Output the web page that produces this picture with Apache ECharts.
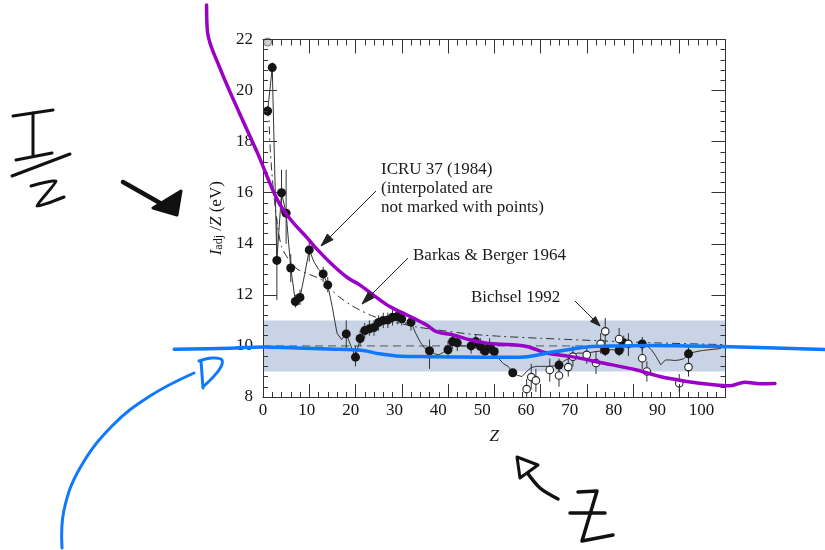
<!DOCTYPE html>
<html>
<head>
<meta charset="utf-8">
<script src="https://cdn.jsdelivr.net/npm/echarts@6/dist/echarts.min.js"></script>
<style>html,body{margin:0;padding:0;background:#fff}#c{width:825px;height:550px}</style>
</head>
<body>
<div id="c"></div>
<script>
// ---------- data ----------
// ICRU 37 marked points: [Z, I/Z, errLow, errHigh]
const icruPoints = [
  [1,19.2,19.0,19.4],[2,20.9,20.7,21.1],[3,13.35,11.8,15.0],[4,16.0,15.2,16.9],
  [5,15.2,14.0,16.9],[6,13.05,12.5,13.6],[7,11.74,11.5,12.0],[8,11.9,11.6,12.2],
  [10,13.76,13.3,14.2],[13,12.82,12.5,13.1],[14,12.39,12.1,12.7],[18,10.47,9.9,11.0],
  [20,9.56,9.2,10.0],[21,10.29,10.0,10.6],[22,10.6,10.3,10.9],[23,10.67,10.4,11.0],
  [24,10.72,10.4,11.0],[25,10.92,10.6,11.2],[26,11.0,10.7,11.3],[27,11.02,10.7,11.3],
  [28,11.12,10.8,11.4],[29,11.15,10.85,11.45],[30,11.06,10.8,11.35],[32,10.93,10.6,11.2],
  [36,9.81,9.1,10.25],[40,9.85,9.5,10.2],[41,10.17,9.9,10.5],[42,10.12,9.8,10.45],
  [45,10.0,9.7,10.3],[46,10.17,9.9,10.45],[47,9.98,9.7,10.3],[48,9.8,9.5,10.1],
  [49,9.98,9.7,10.3],[50,9.78,9.5,10.05],[54,8.95,8.95,8.95],[64,9.25,9.0,9.5],
  [74,9.82,9.82,9.82],[77,9.82,9.6,10.1],[78,10.12,9.8,10.4],[82,10.08,9.8,10.35],
  [92,9.69,9.4,9.95]
];
// Bichsel 1992 points (open circles): [Z, I/Z, errLow, errHigh]
const bichselPoints = [
  [57,8.31,8.0,8.7],[58,8.78,8.3,9.3],[59,8.65,8.2,9.1],[62,9.06,8.6,9.5],
  [64,8.84,8.4,9.3],[66,9.17,8.8,9.6],[67,9.58,9.2,10.0],[70,9.65,9.3,10.0],
  [72,9.33,8.9,9.8],[73,10.08,9.7,10.5],[74,10.57,9.6,11.1],[77,10.27,9.9,10.7],
  [79,10.08,9.6,10.5],[82,9.52,9.1,9.9],[83,9.0,8.6,9.4],[90,8.54,8.2,8.9],
  [92,9.17,8.8,9.6]
];
const hydrogenGas = [[1,21.9]];
// ICRU 37 (1984) curve incl. interpolated values
const icruCurve = [
  [1,19.2],[2,20.9],[3,13.35],[4,16.0],[5,15.2],[6,13.05],[7,11.74],[8,11.9],[9,12.8],
  [10,13.76],[11,13.3],[12,13.0],[13,12.82],[14,12.39],[15,11.5],[16,10.5],[17,10.25],
  [18,10.47],[19,10.0],[20,9.56],[21,10.29],[22,10.6],[23,10.67],[24,10.72],[25,10.92],
  [26,11.0],[27,11.02],[28,11.12],[29,11.15],[30,11.06],[31,10.85],[32,10.93],[33,10.5],
  [34,10.15],[35,9.9],[36,9.81],[37,9.7],[38,9.65],[39,9.75],[40,9.85],[41,10.17],
  [42,10.12],[43,10.0],[44,10.0],[45,10.0],[46,10.17],[47,9.98],[48,9.8],[49,9.98],
  [50,9.78],[51,9.5],[52,9.3],[53,9.2],[54,8.95],[55,8.85],[56,8.8],[57,9.0],[58,9.15],
  [59,9.2],[60,9.2],[61,9.2],[62,9.2],[63,9.22],[64,9.25],[65,9.4],[66,9.5],[67,9.62],
  [68,9.72],[69,9.72],[70,9.72],[71,9.75],[72,9.78],[73,9.8],[74,9.82],[75,9.85],
  [76,9.85],[77,9.82],[78,10.12],[79,10.05],[80,10.0],[81,10.0],[82,10.08],[83,10.0],
  [84,9.85],[85,9.58],[86,9.26],[87,9.45],[88,9.45],[89,9.43],[90,9.45],[91,9.5],
  [92,9.69],[93,9.75],[95,9.82],[99,9.9]
];
// Barkas & Berger 1964 curve
const barkasCurve = [
  [1.2,19.3],[1.6,17.6],[2.2,16.2],[3,14.9],[4,13.9],[5.5,13.4],[7.5,13.0],[10,12.8],
  [12.6,12.6],[14.5,12.25],[16.6,11.9],[19,11.6],[21,11.4],[24,11.15],[28,10.95],
  [33,10.75],[38,10.62],[45,10.46],[52,10.37],[60,10.3],[73,10.2],[85,10.12],[100,10.05]
];
const refLine = [[0,10],[100,10]];
const bandRange = [9, 11];
// hand-drawn overlays (data units; they run past the frame)
const purpleStroke = [
  [-12.2,23.35],[-12.0,22.3],[-9.4,20.92],[-5.1,19.12],[-1.2,17.56],[3.1,15.72],
  [6.0,14.94],[9.6,14.22],[11.8,13.76],[15.4,13.11],[18.3,12.67],[20.9,12.39],
  [23.8,12.0],[27.4,11.54],[31.0,11.22],[35.3,10.83],[37.5,10.56],[41.1,10.43],
  [44.7,10.24],[48.3,10.11],[50.5,10.08],[57.0,9.98],[61.3,9.72],[66.3,9.59],
  [73.5,9.33],[80.8,9.06],[85.8,8.8],[91.6,8.61],[97.4,8.48],[101.0,8.44],
  [104.2,8.58],[107.5,8.52],[110.7,8.53]
];
const blueStroke = [
  [-19.2,9.87],[-7.25,9.91],[0,9.96],[7.2,9.92],[14.4,9.88],[21.6,9.82],[25.2,9.69],
  [28.8,9.61],[36.0,9.58],[48.3,9.56],[55.5,9.56],[62.7,9.76],[66.3,9.86],[70,9.96],
  [77.2,10.0],[84.4,10.02],[91.6,10.0],[101,9.97],[121.5,9.86]
];
const xRange = [0, 100];
const yRange = [8, 22];

// ---------- layout ----------
const W = 825, H = 550;
const G = {left:263, right:99.5, top:39.5, bottom:153};
// overlay grid covering the whole canvas with the same data->pixel mapping
const pxPerX = (W - G.left - G.right) / (xRange[1] - xRange[0]);
const pxPerY = (H - G.top - G.bottom) / (yRange[1] - yRange[0]);
const overX = [xRange[0] - G.left / pxPerX, xRange[1] + G.right / pxPerX];
const overY = [yRange[0] - G.bottom / pxPerY, yRange[1] + G.top / pxPerY];

// ---------- helpers ----------
const SERIF = '"Liberation Serif", "DejaVu Serif", serif';
function arrowHead(x1, y1, x2, y2, len, half) {
  const a = Math.atan2(y2 - y1, x2 - x1);
  const bx = x2 - len * Math.cos(a), by = y2 - len * Math.sin(a);
  const px = -Math.sin(a) * half, py = Math.cos(a) * half;
  return [[x2, y2], [bx + px, by + py], [bx - px, by - py]];
}
function arrow(x1, y1, x2, y2, opts) {
  const o = Object.assign({color:'#222', lw:1, len:11, half:3.5}, opts || {});
  const a = Math.atan2(y2 - y1, x2 - x1);
  const ex = x2 - (o.len - 1) * Math.cos(a), ey = y2 - (o.len - 1) * Math.sin(a);
  return [
    {type:'polyline', shape:{points:[[x1,y1],[ex,ey]]}, style:{stroke:o.color, lineWidth:o.lw, fill:null}, z:20},
    {type:'polygon', shape:{points:arrowHead(x1,y1,x2,y2,o.len,o.half)},
     style:{fill:o.color, stroke:o.color, lineWidth:1}, z:20}
  ];
}
function stroke(points, color, lw, smooth) {
  return {type:'polyline', shape:{points:points, smooth:smooth || 0},
          style:{stroke:color, lineWidth:lw, fill:null, lineCap:'round', lineJoin:'round'}, z:30};
}
function label(x, y, text) {
  return {type:'text', x:x, y:y, z:20,
          style:{text:text, font:'17px ' + SERIF, fill:'#1a1a1a', align:'left', verticalAlign:'middle'}};
}
function errorSeries(pts) {
  return {
    type:'custom', z:3, xAxisIndex:0, yAxisIndex:0, silent:true,
    data: pts.map(p => [p[0], p[1], p[2], p[3]]),
    encode:{x:0, y:[2,3]},
    renderItem: function (params, api) {
      const a = api.coord([api.value(0), api.value(2)]);
      const b = api.coord([api.value(0), api.value(3)]);
      return {type:'line', shape:{x1:a[0], y1:a[1], x2:b[0], y2:b[1]},
              style:{stroke:'#333', lineWidth:1}};
    }
  };
}

const BLACK = '#141414';
const tickStyle = {color:'#333', width:1};
const chart = echarts.init(document.getElementById('c'), null, {renderer:'canvas'});

const option = {
  backgroundColor:'#ffffff',
  animation:false,
  grid:[
    {left:G.left, right:G.right, top:G.top, bottom:G.bottom},
    {left:0, right:0, top:0, bottom:0}
  ],
  xAxis:[
    {type:'value', gridIndex:0, min:xRange[0], max:xRange[1], interval:10, position:'bottom', z:5,
     axisLine:{show:true, lineStyle:{color:'#333', width:1}},
     axisTick:{show:true, inside:true, length:13, lineStyle:tickStyle},
     minorTick:{show:true, splitNumber:5, length:5, lineStyle:tickStyle},
     axisLabel:{show:false}, splitLine:{show:false}},
    {type:'value', gridIndex:0, min:xRange[0], max:xRange[1], interval:10, position:'top', z:5,
     axisLine:{show:true, onZero:false, lineStyle:{color:'#333', width:1}},
     axisTick:{show:true, inside:true, length:14, lineStyle:tickStyle},
     minorTick:{show:true, splitNumber:5, length:6, lineStyle:tickStyle},
     axisLabel:{show:false}, splitLine:{show:false}},
    {type:'value', gridIndex:0, min:0, max:105.5, interval:10, position:'bottom', z:5,
     axisLine:{show:false}, axisTick:{show:false}, splitLine:{show:false},
     axisLabel:{show:true, margin:5, color:BLACK, fontFamily:SERIF, fontSize:17,
                formatter:v => (v <= 100 ? String(v) : '')},
     name:'Z', nameLocation:'middle', nameGap:31,
     nameTextStyle:{fontFamily:SERIF, fontSize:17, fontStyle:'italic', color:BLACK}},
    {type:'value', gridIndex:1, min:overX[0], max:overX[1], show:false}
  ],
  yAxis:[
    {type:'value', gridIndex:0, min:yRange[0], max:yRange[1], interval:2, position:'left', z:5,
     axisLine:{show:true, onZero:false, lineStyle:{color:'#333', width:1}},
     axisTick:{show:true, inside:true, length:14, lineStyle:tickStyle},
     minorTick:{show:true, splitNumber:5, length:5, lineStyle:tickStyle},
     axisLabel:{show:true, margin:10, color:BLACK, fontFamily:SERIF, fontSize:17},
     splitLine:{show:false},
     name:'{i|I}{s|adj}{n| /}{i|Z}{n| (eV)}', nameLocation:'middle', nameRotate:90, nameGap:38,
     nameTextStyle:{color:BLACK, fontFamily:SERIF, fontSize:17,
       rich:{
         i:{fontFamily:SERIF, fontSize:17, fontStyle:'italic', color:BLACK, lineHeight:17, verticalAlign:'top'},
         n:{fontFamily:SERIF, fontSize:17, color:BLACK, lineHeight:17, verticalAlign:'top'},
         s:{fontFamily:SERIF, fontSize:12, color:BLACK, lineHeight:12, padding:[8,0,0,0], verticalAlign:'bottom'}
       }}},
    {type:'value', gridIndex:0, min:yRange[0], max:yRange[1], interval:2, position:'right', z:5,
     axisLine:{show:true, onZero:false, lineStyle:{color:'#333', width:1}},
     axisTick:{show:true, inside:true, length:14, lineStyle:tickStyle},
     minorTick:{show:true, splitNumber:5, length:5, lineStyle:tickStyle},
     axisLabel:{show:false}, splitLine:{show:false}},
    {type:'value', gridIndex:1, min:overY[0], max:overY[1], show:false}
  ],
  series:[
    {name:'band', type:'line', z:0, xAxisIndex:0, yAxisIndex:0, silent:true,
     data:refLine, showSymbol:false, lineStyle:{opacity:0},
     markArea:{silent:true, itemStyle:{color:'#c8d3e6', opacity:1},
               data:[[{yAxis:bandRange[0]},{yAxis:bandRange[1]}]]}},
    {name:'ref', type:'line', z:2, xAxisIndex:0, yAxisIndex:0, silent:true,
     data:refLine, showSymbol:false, lineStyle:{color:'#555', width:1, type:[8,5]}},
    {name:'Barkas & Berger 1964', type:'line', z:2, xAxisIndex:0, yAxisIndex:0, silent:true,
     data:barkasCurve, showSymbol:false, smooth:0.3,
     lineStyle:{color:'#333', width:1, type:[8,4,2,4]}},
    {name:'ICRU 37 (1984)', type:'line', z:2, xAxisIndex:0, yAxisIndex:0, silent:true,
     data:icruCurve, showSymbol:false, lineStyle:{color:'#333', width:1}},
    errorSeries(icruPoints),
    errorSeries(bichselPoints),
    {name:'ICRU points', type:'scatter', z:4, xAxisIndex:0, yAxisIndex:0, silent:true,
     data:icruPoints.map(p => [p[0], p[1]]), symbol:'circle', symbolSize:9,
     itemStyle:{color:BLACK, opacity:1}},
    {name:'Bichsel 1992', type:'scatter', z:4, xAxisIndex:0, yAxisIndex:0, silent:true,
     data:bichselPoints.map(p => [p[0], p[1]]), symbol:'circle', symbolSize:7.5,
     itemStyle:{color:'#ffffff', borderColor:'#222', borderWidth:1.1, opacity:1}},
    {name:'H2 gas', type:'scatter', z:4, xAxisIndex:0, yAxisIndex:0, silent:true,
     data:hydrogenGas, symbol:'circle', symbolSize:8,
     itemStyle:{color:'#d0d0d0', borderColor:'#777', borderWidth:1, opacity:1}},
    {name:'purple', type:'line', z:10, xAxisIndex:3, yAxisIndex:2, silent:true, clip:false,
     data:purpleStroke, showSymbol:false, smooth:0.35,
     lineStyle:{color:'#9a00c6', width:3.5, cap:'round', join:'round'}},
    {name:'blue', type:'line', z:10, xAxisIndex:3, yAxisIndex:2, silent:true, clip:false,
     data:blueStroke, showSymbol:false, smooth:0.35,
     lineStyle:{color:'#0f78ff', width:3.5, cap:'round', join:'round'}}
  ],
  graphic: [].concat(
    [label(381, 170, 'ICRU 37 (1984)'),
     label(381, 189, '(interpolated are'),
     label(381, 208, 'not marked with points)'),
     label(413, 256, 'Barkas & Berger 1964'),
     label(471, 298, 'Bichsel 1992')],
    arrow(376, 191, 321, 246, {lw:1, len:13, half:4}),
    arrow(408, 258, 362, 304, {lw:1, len:13, half:4}),
    arrow(575, 301, 600, 326, {lw:1, len:10, half:3.5}),
    // handwritten I/Z
    [stroke([[13,116],[53,110]], '#111', 3),
     stroke([[33,113],[33,155]], '#111', 3),
     stroke([[16,160],[52,153]], '#111', 3),
     stroke([[12,176],[70,154]], '#111', 3),
     stroke([[31,186],[56,181],[37,206],[64,197]], '#111', 3, 0.2)],
    // handwritten black arrow toward axis title
    [stroke([[123,182],[160,203]], '#111', 4.5),
     {type:'polygon', shape:{points:[[153,208],[181,191],[177,215]]},
      style:{fill:'#111', stroke:'#111', lineWidth:3, lineJoin:'round'}, z:30}],
    // blue D and curved arrow
    [stroke([[201,361],[203,388]], '#0f78ff', 3),
     stroke([[199,361],[212,358],[222,360],[219,370],[204,386]], '#0f78ff', 3, 0.35),
     stroke([[62,548],[64,510],[80,468],[112,426],[150,396],[194,373]], '#0f78ff', 3, 0.4)],
    // arrow toward Z axis title and handwritten Z
    [stroke([[558,499],[540,488],[526,471]], '#111', 3.5, 0.3),
     {type:'polygon', shape:{points:[[517,457],[538,465],[520,478]]},
      style:{fill:'#fff', stroke:'#111', lineWidth:3, lineJoin:'round'}, z:30},
     stroke([[578,492],[597,491],[582,541],[613,535]], '#111', 3.5),
     stroke([[570,513],[605,513]], '#111', 3.5)]
  )
};
chart.setOption(option);
</script>
</body>
</html>
